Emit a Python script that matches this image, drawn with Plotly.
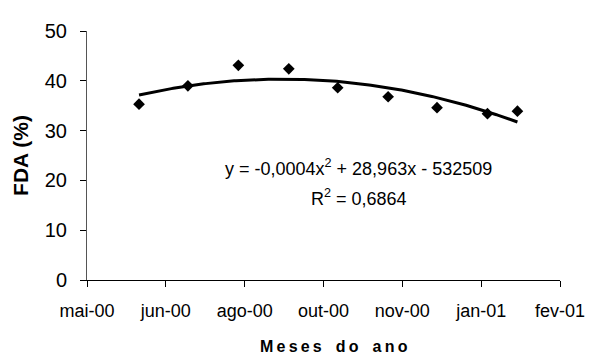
import numpy as np
import pandas as pd
import plotly.graph_objects as go

# Data
dates = ["2000-06-06", "2000-07-07", "2000-08-08", "2000-09-09", "2000-10-10",
         "2000-11-11", "2000-12-12", "2001-01-13", "2001-02-01"]
fda = [35.3, 39.0, 43.1, 42.4, 38.6, 36.8, 34.6, 33.4, 33.9]

tick_dates = ["2000-05-04", "2000-06-23", "2000-08-12", "2000-10-01",
              "2000-11-20", "2001-01-09", "2001-02-28"]
tick_labels = ["mai-00", "jun-00", "ago-00", "out-00", "nov-00", "jan-01", "fev-01"]
y_ticks = [0, 10, 20, 30, 40, 50]

eq_text = "y = -0,0004x<sup>2</sup> + 28,963x - 532509"
r2_text = "R<sup>2</sup> = 0,6864"
x_title = "Meses do ano"
y_title = "FDA (%)"

# Polynomial (order 2) trendline fitted to the data, as in the original
d = pd.to_datetime(dates)
t0 = d[0]
days = np.array([(x - t0).days for x in d], dtype=float)
coef = np.polyfit(days, np.array(fda), 2)
grid = np.linspace(days.min(), days.max(), 200)
trend_x = [t0 + pd.Timedelta(days=float(g)) for g in grid]
trend_y = np.polyval(coef, grid)

# letter-spaced x title (thin spaces between letters)
thin = "\u2009"
spaced_title = (thin).join(list(x_title)).replace(thin + " " + thin, thin + " " + thin + thin)

fig = go.Figure()
fig.add_trace(go.Scatter(x=trend_x, y=trend_y, mode="lines",
                         line=dict(color="black", width=3), hoverinfo="skip",
                         showlegend=False))
fig.add_trace(go.Scatter(x=dates, y=fda, mode="markers",
                         marker=dict(symbol="diamond", size=9, color="black"),
                         showlegend=False))

fig.add_annotation(x=0.574, y=0.453, xref="paper", yref="paper", text=eq_text,
                   showarrow=False, font=dict(size=18, color="black"),
                   xanchor="center", yanchor="middle")
fig.add_annotation(x=0.574, y=0.333, xref="paper", yref="paper", text=r2_text,
                   showarrow=False, font=dict(size=18, color="black"),
                   xanchor="center", yanchor="middle")
fig.add_annotation(x=0.523, y=-0.267, xref="paper", yref="paper",
                   text="<b>" + spaced_title + "</b>",
                   showarrow=False, font=dict(size=16, color="black"),
                   xanchor="center", yanchor="middle")

fig.update_layout(
    width=589, height=354,
    margin=dict(l=76, r=27, t=14, b=82),
    paper_bgcolor="white", plot_bgcolor="white",
    font=dict(family="Liberation Sans, Arial, sans-serif", size=18, color="black"),
    xaxis=dict(type="date", range=[tick_dates[0], tick_dates[-1]],
               tickvals=tick_dates, ticktext=tick_labels,
               showgrid=False, zeroline=False, showline=True, linecolor="black",
               linewidth=1, ticks="outside", ticklen=6, tickcolor="black",
               tickfont=dict(size=18), ticklabelstandoff=8),
    yaxis=dict(range=[0, 50], tickvals=y_ticks,
               showgrid=False, zeroline=False, showline=True, linecolor="#555",
               linewidth=1, ticks="outside", ticklen=6, tickcolor="black",
               tickfont=dict(size=20), ticklabelstandoff=9,
               title=dict(text="<b>" + y_title + "</b>", font=dict(size=21), standoff=10)),
)

fig.write_html("out.html")
